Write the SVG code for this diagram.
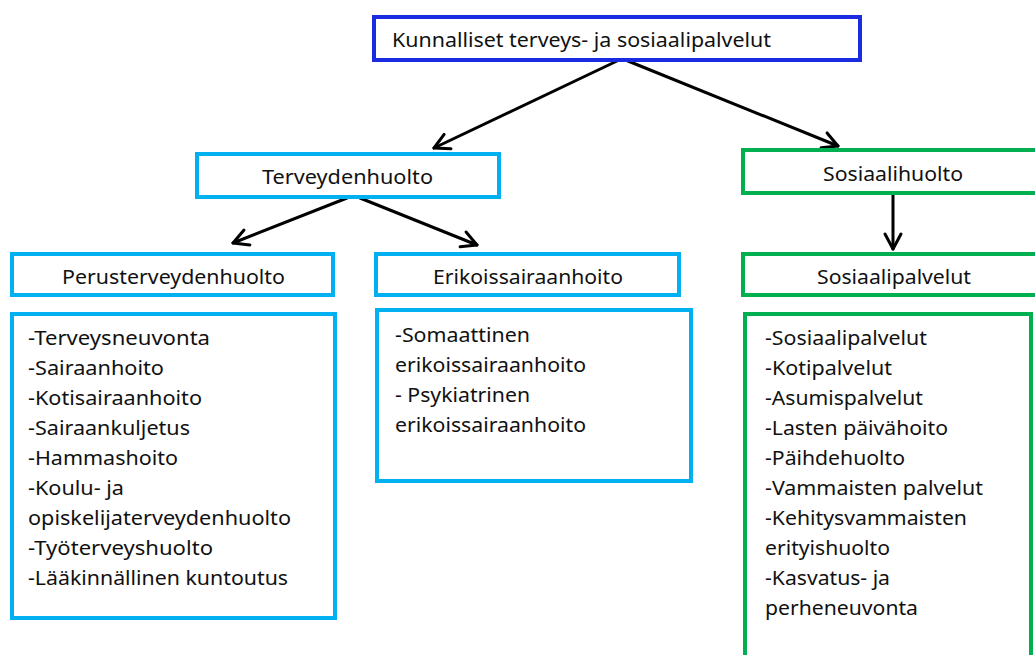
<svg xmlns="http://www.w3.org/2000/svg" width="1035" height="655" viewBox="0 0 1035 655">
<defs>
<style>
.box{fill:#fff;stroke-width:4}
.blue{stroke:#1a2be0}
.cyan{stroke:#00b0f0}
.green{stroke:#00b050}
text{font-family:"Noto Sans","Open Sans",sans-serif;font-size:19px;fill:#111}
.c{text-anchor:middle}
.conn{stroke:#000;stroke-width:3;fill:none;stroke-linecap:round}
</style>
<marker id="arr" markerUnits="userSpaceOnUse" markerWidth="24" markerHeight="24" viewBox="-18 -12 24 24" refX="0" refY="0" orient="auto">
<path d="M -15 -8 L 0 0 L -15 8" fill="none" stroke="#000" stroke-width="3" stroke-linecap="round" stroke-linejoin="round"/>
</marker>
</defs>
<rect width="1035" height="655" fill="#fff"/>
<g id="connectors">
<line class="conn" x1="617" y1="61" x2="434" y2="148" marker-end="url(#arr)"/>
<line class="conn" x1="628" y1="61" x2="838" y2="146" marker-end="url(#arr)"/>
<line class="conn" x1="347" y1="198" x2="233" y2="243" marker-end="url(#arr)"/>
<line class="conn" x1="360" y1="198" x2="477" y2="245" marker-end="url(#arr)"/>
<line class="conn" x1="893" y1="195" x2="893" y2="249" marker-end="url(#arr)"/>
</g>
<g id="kunnalliset">
<rect class="box blue" x="374" y="17" width="486" height="43"/>
<text x="392" y="47" textLength="379" lengthAdjust="spacingAndGlyphs">Kunnalliset terveys- ja sosiaalipalvelut</text>
</g>
<g id="terveydenhuolto">
<rect class="box cyan" x="197" y="154" width="302" height="43"/>
<text x="262" y="184" textLength="171" lengthAdjust="spacingAndGlyphs">Terveydenhuolto</text>
</g>
<g id="sosiaalihuolto">
<rect class="box green" x="743" y="150" width="300" height="43"/>
<text x="823" y="181" textLength="140" lengthAdjust="spacingAndGlyphs">Sosiaalihuolto</text>
</g>
<g id="perusterveydenhuolto">
<rect class="box cyan" x="12" y="254" width="321" height="41"/>
<text x="62" y="284" textLength="223" lengthAdjust="spacingAndGlyphs">Perusterveydenhuolto</text>
</g>
<g id="erikoissairaanhoito">
<rect class="box cyan" x="376" y="254" width="303" height="41"/>
<text x="433" y="284" textLength="190" lengthAdjust="spacingAndGlyphs">Erikoissairaanhoito</text>
</g>
<g id="sosiaalipalvelut">
<rect class="box green" x="743" y="254" width="300" height="41"/>
<text x="817" y="284" textLength="154" lengthAdjust="spacingAndGlyphs">Sosiaalipalvelut</text>
</g>
<g id="perus-lista">
<rect class="box cyan" x="12" y="314" width="323" height="304"/>
<text x="28" y="345" textLength="182" lengthAdjust="spacingAndGlyphs">-Terveysneuvonta</text>
<text x="28" y="375" textLength="136" lengthAdjust="spacingAndGlyphs">-Sairaanhoito</text>
<text x="28" y="405" textLength="174" lengthAdjust="spacingAndGlyphs">-Kotisairaanhoito</text>
<text x="28" y="435" textLength="162" lengthAdjust="spacingAndGlyphs">-Sairaankuljetus</text>
<text x="28" y="465" textLength="150" lengthAdjust="spacingAndGlyphs">-Hammashoito</text>
<text x="28" y="495" textLength="96" lengthAdjust="spacingAndGlyphs">-Koulu- ja</text>
<text x="28" y="525" textLength="263" lengthAdjust="spacingAndGlyphs">opiskelijaterveydenhuolto</text>
<text x="28" y="555" textLength="185" lengthAdjust="spacingAndGlyphs">-Työterveyshuolto</text>
<text x="28" y="585" textLength="260" lengthAdjust="spacingAndGlyphs">-Lääkinnällinen kuntoutus</text>
</g>
<g id="erikois-lista">
<rect class="box cyan" x="377" y="310" width="314" height="171"/>
<text x="395" y="342" textLength="135" lengthAdjust="spacingAndGlyphs">-Somaattinen</text>
<text x="395" y="372" textLength="191" lengthAdjust="spacingAndGlyphs">erikoissairaanhoito</text>
<text x="395" y="402" textLength="135" lengthAdjust="spacingAndGlyphs">- Psykiatrinen</text>
<text x="395" y="432" textLength="191" lengthAdjust="spacingAndGlyphs">erikoissairaanhoito</text>
</g>
<g id="sosiaali-lista">
<rect class="box green" x="745" y="314" width="286" height="360"/>
<text x="765" y="345" textLength="162" lengthAdjust="spacingAndGlyphs">-Sosiaalipalvelut</text>
<text x="765" y="375" textLength="127" lengthAdjust="spacingAndGlyphs">-Kotipalvelut</text>
<text x="765" y="405" textLength="158" lengthAdjust="spacingAndGlyphs">-Asumispalvelut</text>
<text x="765" y="435" textLength="183" lengthAdjust="spacingAndGlyphs">-Lasten päivähoito</text>
<text x="765" y="465" textLength="140" lengthAdjust="spacingAndGlyphs">-Päihdehuolto</text>
<text x="765" y="495" textLength="218" lengthAdjust="spacingAndGlyphs">-Vammaisten palvelut</text>
<text x="765" y="525" textLength="202" lengthAdjust="spacingAndGlyphs">-Kehitysvammaisten</text>
<text x="765" y="555" textLength="125" lengthAdjust="spacingAndGlyphs">erityishuolto</text>
<text x="765" y="585" textLength="125" lengthAdjust="spacingAndGlyphs">-Kasvatus- ja</text>
<text x="765" y="615" textLength="153" lengthAdjust="spacingAndGlyphs">perheneuvonta</text>
</g>
</svg>
